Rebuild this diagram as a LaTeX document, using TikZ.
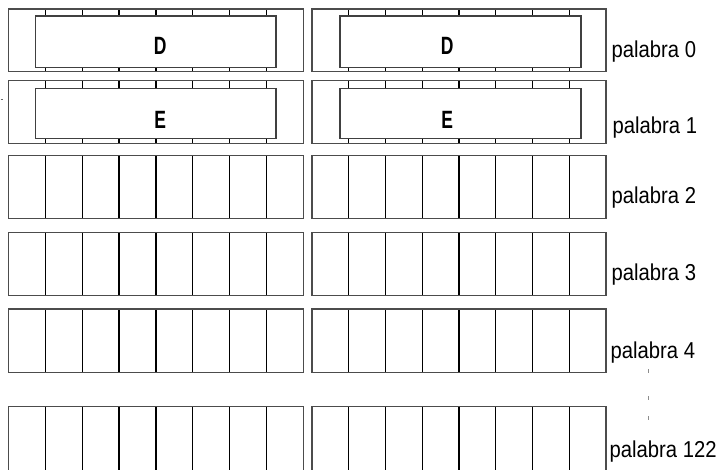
\documentclass[tikz,border=0pt]{standalone}
\usepackage{fontspec}
\usepackage{graphicx}
\setmainfont{Liberation Sans}
\newfontfamily\lblfont[FakeStretch=0.88]{Liberation Sans}
\newcommand{\condbold}[1]{\scalebox{0.7}[1]{\bfseries\fontsize{25}{29}\selectfont #1}}
\begin{document}
\begin{tikzpicture}[x=1pt,y=-1pt,
  outer/.style={draw=black!70,line width=1.3pt},
  divline/.style={draw=black,line width=1.2pt},
  innerbox/.style={draw=black!75,line width=1.2pt,fill=white},
  wordlbl/.style={anchor=base west,inner sep=0pt,font=\lblfont\fontsize{23}{27}\selectfont},
  bigletter/.style={inner sep=0pt},
  dotmark/.style={draw=black!45,line width=1pt}]
\useasboundingbox (0,0) rectangle (725,469);
\clip (0,0) rectangle (725,469);
% word rows
\foreach \t/\b in {9/71.3, 80.3/143.3, 155.7/218.7, 232.7/295.3, 309/372.3, 406.7/480}{
  \foreach \i in {1,...,7}{
    \draw[divline] (8.3+\i*36.9,\t) -- (8.3+\i*36.9,\b);
    \draw[divline] (312+\i*36.75,\t) -- (312+\i*36.75,\b);
  }
  \draw[outer] (8.3,\t) rectangle (303.5,\b);
  \draw[outer] (312,\t) rectangle (606,\b);
}
% inner boxes of words 0 and 1
\draw[innerbox] (35.3,16) rectangle (276,67.7);
\draw[innerbox] (340,16) rectangle (581,67.7);
\draw[innerbox] (35.3,88.3) rectangle (276,138.7);
\draw[innerbox] (340,88.3) rectangle (581,138.7);
\node[bigletter] (d1) at (160.3,46.3) {\condbold{D}};
\node[bigletter] (d2) at (447.3,46.3) {\condbold{D}};
\node[bigletter] (e1) at (160.3,119.7) {\condbold{E}};
\node[bigletter] (e2) at (447.3,119.7) {\condbold{E}};
% labels
\node[wordlbl] (p0) at (611.5,57) {palabra 0};
\node[wordlbl] (p1) at (612.5,133) {palabra 1};
\node[wordlbl] (p2) at (611.5,203) {palabra 2};
\node[wordlbl] (p3) at (611.5,280) {palabra 3};
\node[wordlbl] (p4) at (610.5,358) {palabra 4};
\node[wordlbl] (p122) at (609.5,457.5) {palabra 122};
% ellipsis marks
\draw[dotmark] (648,369) -- (648,373);
\draw[dotmark] (648,396) -- (648,400);
\draw[dotmark] (648,416) -- (648,420);
% small stray mark at left
\draw[draw=black!60,line width=1pt] (0.5,99.3) -- (2.5,99.3);
\end{tikzpicture}
\end{document}
